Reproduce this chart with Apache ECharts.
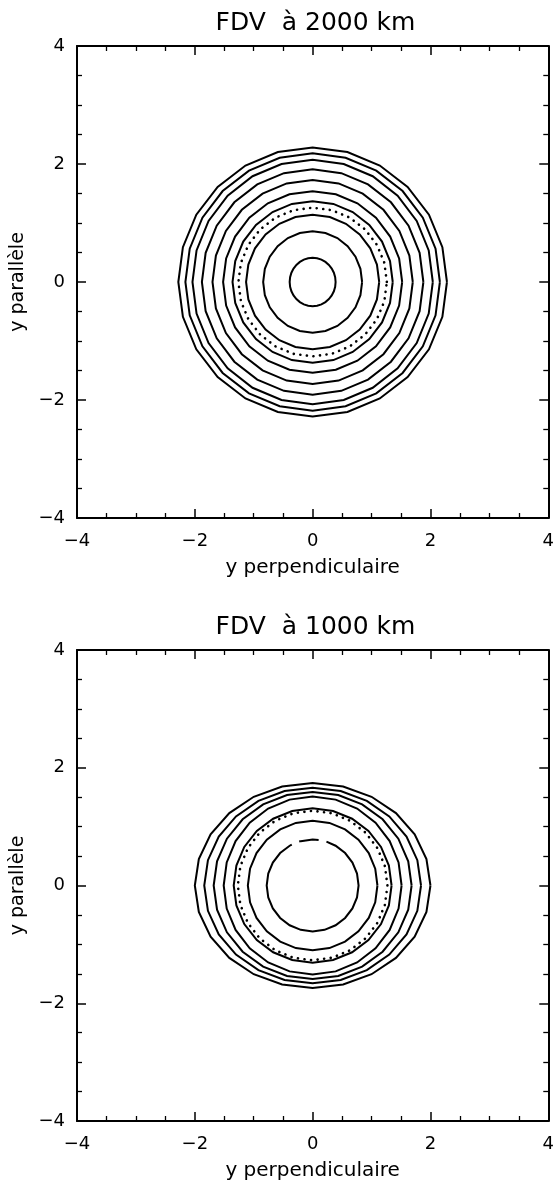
<!DOCTYPE html>
<html>
<head>
<meta charset="utf-8">
<script src="https://cdn.jsdelivr.net/npm/echarts@6/dist/echarts.min.js"></script>
<style>
  html, body { margin: 0; padding: 0; background: #fff; }
  #main { width: 557px; height: 1182px; }
</style>
</head>
<body>
<div id="main"></div>
<script>
// panel titles and axis labels
var titles = ['FDV  à 2000 km', 'FDV  à 1000 km'];
var xName = 'y perpendiculaire';
var yName = 'y parallèle';
var axisRange = [-4, 4];

// contour radii (x half-width, y half-height), outermost first
var topRx = [2.28, 2.16, 2.04, 1.88, 1.70, 1.52, 1.36, 1.26, 1.13, 0.84, 0.39];
var topRy = [2.28, 2.18, 2.07, 1.91, 1.73, 1.54, 1.37, 1.26, 1.14, 0.86, 0.41];
var topFrom = [0, 0, 0, 0, 0, 0, 0, 0, 0, 0, 0];
var topTo = [360, 360, 360, 360, 360, 360, 360, 360, 360, 360, 360];
var topDotted = [0, 0, 0, 0, 0, 0, 0, 1, 0, 0, 0];

var botRx = [2.00, 1.84, 1.68, 1.51, 1.34, 1.27, 1.10, 0.78, 0.78];
var botRy = [1.74, 1.66, 1.59, 1.51, 1.31, 1.27, 1.10, 0.78, 0.78];
var botFrom = [0, 0, 0, 0, 0, 0, 0, 117, 82.5];
var botTo = [360, 360, 360, 360, 360, 360, 360, 432.5, 107];
var botDotted = [0, 0, 0, 0, 0, 1, 0, 0, 0];

var FONT = 'DejaVu Sans';
var GRID_L = 77, GRID_W = 477, GRID_H = 472;
var gridTops = [46, 650];

var rows = function(rx, ry, from, to, dotted) {
    return rx.map(function(r, i) { return [r, ry[i], from[i], to[i], dotted[i]]; });
};

var ringItem = function(params, api) {
    var rx = api.value(0), ry = api.value(1), a0 = api.value(2), a1 = api.value(3), dotted = api.value(4);
    var n = rx < 0.5 ? 32 : 24, step = 360 / n, pts = [];
    var pt = function(a) {
        var t = a * Math.PI / 180;
        return api.coord([rx * Math.cos(t), ry * Math.sin(t)]);
    };
    pts.push(pt(a0));
    var k = Math.floor((a0 - 90) / step) + 1;
    for (var a = 90 + k * step; a < a1 - 1e-6; a += step) {
        pts.push(pt(a));
    }
    pts.push(pt(a1));
    return {
        type: 'polyline',
        shape: { points: pts },
        style: dotted ? {
            stroke: '#000', lineWidth: 2.6, lineDash: [0.1, 6.5], lineCap: 'round', fill: null
        } : {
            stroke: '#000', lineWidth: 2, fill: null
        }
    };
};

var labelFmt = function(v) { return String(v).replace('-', '\u2212'); };

var makeX = function(g, bottom) {
    return {
        type: 'value', gridIndex: g, position: bottom ? 'bottom' : 'top',
        min: axisRange[0], max: axisRange[1], interval: 2,
        name: bottom ? xName : '', nameLocation: 'middle', nameGap: 40,
        nameTextStyle: { fontFamily: FONT, fontSize: 20, color: '#000' },
        axisLine: { show: true, onZero: false, lineStyle: { color: '#000', width: 2 } },
        axisTick: { show: true, inside: true, length: 9, lineStyle: { color: '#000', width: 1.5 } },
        minorTick: { show: true, splitNumber: 4, length: 5, lineStyle: { color: '#000', width: 1.3 } },
        axisLabel: { show: bottom, margin: 14, fontFamily: FONT, fontSize: 18, color: '#000', formatter: labelFmt },
        splitLine: { show: false }
    };
};
var makeY = function(g, left) {
    return {
        type: 'value', gridIndex: g, position: left ? 'left' : 'right',
        min: axisRange[0], max: axisRange[1], interval: 2,
        name: left ? yName : '', nameLocation: 'middle', nameGap: 47,
        nameTextStyle: { fontFamily: FONT, fontSize: 19, color: '#000' },
        axisLine: { show: true, onZero: false, lineStyle: { color: '#000', width: 2 } },
        axisTick: { show: true, inside: true, length: 9, lineStyle: { color: '#000', width: 1.5 } },
        minorTick: { show: true, splitNumber: 4, length: 5, lineStyle: { color: '#000', width: 1.3 } },
        axisLabel: { show: left, margin: 12, fontFamily: FONT, fontSize: 18, color: '#000', formatter: labelFmt },
        splitLine: { show: false }
    };
};

var option = {
    backgroundColor: '#fff',
    animation: false,
    title: titles.map(function(t, i) {
        return {
            text: t, left: GRID_L + GRID_W / 2, top: gridTops[i] - 35, textAlign: 'center', padding: 0,
            textStyle: { fontFamily: FONT, fontSize: 25, fontWeight: 'normal', color: '#000' }
        };
    }),
    grid: gridTops.map(function(t) {
        return { left: GRID_L, top: t, width: GRID_W, height: GRID_H, containLabel: false };
    }),
    xAxis: [makeX(0, true), makeX(0, false), makeX(1, true), makeX(1, false)],
    yAxis: [makeY(0, true), makeY(0, false), makeY(1, true), makeY(1, false)],
    series: [{
        type: 'custom', xAxisIndex: 0, yAxisIndex: 0, silent: true,
        renderItem: ringItem,
        data: rows(topRx, topRy, topFrom, topTo, topDotted)
    }, {
        type: 'custom', xAxisIndex: 2, yAxisIndex: 2, silent: true,
        renderItem: ringItem,
        data: rows(botRx, botRy, botFrom, botTo, botDotted)
    }]
};

var myChart = echarts.init(document.getElementById('main'));
myChart.setOption(option);
</script>
</body>
</html>
